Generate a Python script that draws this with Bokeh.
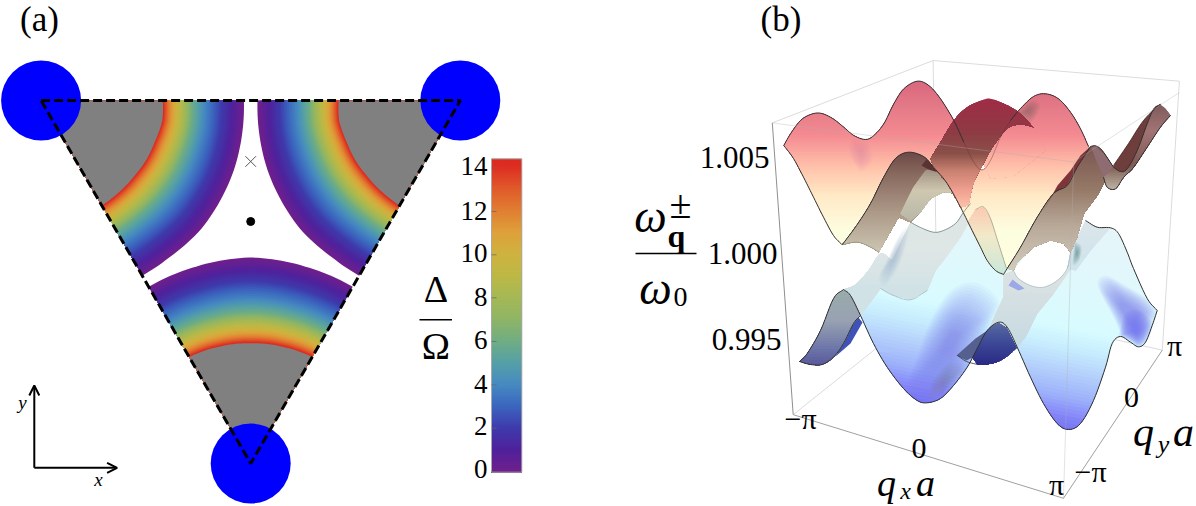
import numpy as np
from bokeh.plotting import figure
from bokeh.models import ColumnDataSource, Arrow, OpenHead
from bokeh.core.properties import value
from bokeh.embed import file_html
from bokeh.resources import INLINE

# ---------- panel (a) values ----------
VERTICES = [(40.6, 100.0), (459.8, 100.0), (250.2, 463.0)]
SITE_RADIUS = 40
CENTER_DOT = (250.2, 221.0)
CROSS = (250.2, 161.0)
BAND_ANGLE = [0, 9.4, 20, 29.2, 39.3, 50.7, 60]
R_OUT_SIDE = [202.8, 203.8, 205.0, 205.2, 205.3, 202.6, 202.3]
R_IN_SIDE = [121.7, 122.9, 121.0, 120.8, 120.0, 120.5, 121.3]
BOTTOM_ANGLE = [60, 75, 90, 105, 120]
R_OUT_BOTTOM = [204.0, 204.4, 206.0, 204.4, 204.0]
R_IN_BOTTOM = [122.9, 121.0, 120.3, 121.0, 122.9]
DELTA_LEVEL = [0, 2, 4, 6, 8, 10, 12, 14, 14.4]
BAND_FRACTION = [1.0, 0.732, 0.518, 0.362, 0.264, 0.168, 0.078, 0.012, 0.0]
CBAR_DELTA = list(range(16))
CBAR_COLOR = ["#6f1f8c", "#4f219c", "#3e3bac", "#3b66bf", "#468ac0", "#55a0a6", "#70ad82", "#8fb565",
              "#a5b855", "#bdb845", "#ceb23f", "#dea03a", "#e07e32", "#e05a2a", "#dd2e22", "#d92020"]
CBAR_TICKS = [0, 2, 4, 6, 8, 10, 12, 14]
CBAR_TICK_Y = [471, 427.7, 384.3, 341, 297.3, 254.3, 211, 167.5]
CBAR_X = (491, 521.3)
CBAR_Y = (158.3, 471.7)
CBAR_LABEL_Y = [468.3, 425.7, 383, 339, 296.7, 252, 210, 165.7]

# ---------- panel (b) traced curves (screen positions) ----------
FL = [(783.3,145),(793,158),(803,176.7),(813,196.7),(823,216.7),(833,235),(841.7,244.3)]
BACK = [(783.3,145),(790,133.3),(800,120),(810,114),(820,112.7),(831.7,117.7),(843.3,126.7),(853.3,135),(865,139),(873.3,135),(883.3,123.3),(893.3,103.3),(903.3,88.3),(916.7,80.7),(928.3,85),(940,98.3),(953.3,120),(963.3,141.7),(973.3,161.7),(981.7,169.5),(990,160),(1000,136.7),(1010,120),(1020,108),(1033,96),(1045,93.3),(1058,98.3),(1070,111.7),(1080,128.3),(1088,146)]
RIDGE1 = [(841.7,244.3),(856,225),(870,203),(883,177),(895,158),(908,151.7),(923,156),(933,166.7),(946.7,183),(960,206.7),(970,226.7),(980,246.7),(986.7,260),(995,270),(1003,274)]
RIDGE2 = [(1003,274),(1006.7,268),(1020,246.7),(1036.7,216.7),(1053,193),(1066.7,185),(1076.7,166.7),(1090,146)]
HUMP = [(1090,146),(1095,145.3),(1101.7,150),(1113,166.7)]
BL = [(841.7,244.3),(856.7,241.7),(870,246.7),(878.3,251.7)]
ARCH1 = [(910,221.7),(920,211.7),(930,198.3),(943,191.7),(953,193)]
CAP_TOP = [(930,158),(940,141.7),(953.3,120),(966.7,106.7),(983,99.3),(990,98.3),(1003,103),(1018,111.7),(1033,126.7)]
CAP_IN = [(1033,126.7),(1020,124),(1006.7,128.3),(993.3,145),(983,163),(973,183),(968,205)]
LOW_FRONT = [(843,289),(850,295),(860,315),(873,343),(886.7,366.7),(903,388),(916.7,400),(926.7,402.3),(940,398),(953,385),(966.7,366.7),(976.7,348),(986.7,330),(998.3,321.7),(1006.7,326.7),(1016.7,346.7),(1030,376.7),(1043,403),(1056.7,423),(1068,429),(1080,423),(1093,400),(1105,366.7),(1111.7,343),(1120,336),(1130,341.7),(1138,346.3),(1145,341.7),(1151.7,325),(1156.7,310)]
LOW_RIGHT = [(1085,220),(1096.7,226.7),(1110,227.3),(1118,233),(1126.7,251.7),(1133,268),(1146.7,298),(1156.7,310)]
LOW_WIN = [(910,221.7),(920,227),(933,231.7),(943,230),(955,223),(963,211.7),(970,203)]
LOW_LEFT = [(843,289),(855,284),(868,270),(880,253),(891.7,260)]
SHEET_EDGE = [(860,315),(870,300),(880,288),(893,295),(910,299.3),(926.7,290),(935,270),(946.7,255),(960,236.7),(970,220)]
FLANK_TOP = [(799,361),(806.7,353),(820,330),(833,298),(843,289)]
FLANK_BOT = [(799,361),(810,364),(821.7,364),(833,356.7),(843,343),(853,323),(860,315)]
BOWL = [(957,355),(966,361),(977,364),(987,364),(1000,360),(1010,353),(1016.7,346.7)]
WING_TOP = [(1113,165),(1128,143),(1143,120),(1158,105),(1160,104)]
WING_IN = [(1113,166.7),(1120,171),(1126.7,168.3),(1136.7,150),(1146.7,123.3),(1153.3,108.3),(1160,104)]
WING_LOW = [(1170,115),(1160,126.7),(1146.7,146.7),(1133.3,166.7),(1123.3,176.7),(1115,188.3),(1106.7,186.7),(1103,176.7)]
PEAK_LINE = [(975,209),(983,206.5),(990,218),(998,243),(1006,268)]
HOLE2_TOP = [(1013,270),(1033,246.7),(1050,240),(1063,243),(1070,251.7)]
HOLE2_BOT = [(1070,251.7),(1066.7,268),(1056.7,280),(1043,286.7),(1030,285),(1018,278),(1013,270)]

# vertical colour scales of the surfaces
PINK = [(80,"#d9677f"),(110,"#e57c88"),(135,"#f48b92"),(165,"#ffbfa9"),(195,"#ffe9c6"),(230,"#fdfddf"),(275,"#fffee2")]
BROWN = [(150,"#6b4644"),(175,"#8a6b60"),(210,"#ab9786"),(250,"#cbc4b0")]
CAP = [(98,"#a02c46"),(130,"#8f3a44"),(153,"#8a5048"),(170,"#c88070"),(190,"#f0a090"),(210,"#ffc8b0")]
CYAN = [(220,"#e4f6fa"),(300,"#d8fbff"),(320,"#c8eefe"),(345,"#b4d0fb"),(370,"#9cb0fb"),(390,"#8484f8"),(405,"#7272f2")]
GREY = [(210,"#dde4e4"),(250,"#dfe6e6"),(290,"#d0e2e6")]
FLANK = [(289,"#9aabaa"),(320,"#98a2b2"),(350,"#6a72a8"),(364,"#5a5a9a")]
NAVY = [(322,"#5a6ca0"),(340,"#3f4c98"),(364,"#2a2a85")]
RIGHTBROWN = [(146,"#7a5550"),(190,"#967a68"),(225,"#b8a898"),(270,"#d2ccbc")]
MAUVE = [(104,"#7d5a5c"),(130,"#a27474"),(165,"#7d5a52"),(190,"#c0b8a8")]

BOX_BACK = [((771.8,122.4),(932.6,60.0)),((932.6,60.0),(1178.9,80.7)),((932.6,60.0),(936.4,299.4)),((1178.9,80.7),(1161.8,349.6)),((792.7,414.2),(936.4,299.4)),((936.4,299.4),(1161.8,349.6))]

TITLE_A, TITLE_B = "(a)", "(b)"
Z_TICKS = ["1.005", "1.000", "0.995"]
AXIS_TICKS = ["\u2212\u03c0", "0", "\u03c0"]
SERIF = value("Liberation Serif")


def hex2rgb(h):
    return np.array([int(h[i:i+2], 16) for i in (1, 3, 5)], float)


def scale_color(stops, t):
    ts = [s[0] for s in stops]
    rgb = np.array([hex2rgb(s[1]) for s in stops])
    c = [np.interp(t, ts, rgb[:, i]) for i in range(3)]
    return "#%02x%02x%02x" % tuple(int(round(v)) for v in c)


def smooth(points, k=6):
    pts = np.array(points, float)
    if len(pts) < 3:
        return [tuple(q) for q in pts]
    P = np.vstack([2*pts[0]-pts[1], pts, 2*pts[-1]-pts[-2]])
    out = []
    for i in range(1, len(P)-2):
        for u in np.linspace(0, 1, k, endpoint=False):
            a = 2*P[i]
            b = (P[i+1]-P[i-1])*u
            c = (2*P[i-1]-5*P[i]+4*P[i+1]-P[i+2])*u*u
            d = (-P[i-1]+3*P[i]-3*P[i+1]+P[i+2])*u**3
            out.append(tuple(0.5*(a+b+c+d)))
    out.append(tuple(pts[-1]))
    return out


def clip_half(poly, tilt, level):
    """Keep y + tilt*x >= level; a concave outline falls apart into separate pieces."""
    f = [q[1]+tilt*q[0]-level for q in poly]
    n = len(poly)
    inside = [v >= 0 for v in f]
    if all(inside):
        return [poly]
    if not any(inside):
        return []
    start = next(i for i in range(n) if not inside[i] and inside[(i+1) % n])
    runs, run = [], None
    for j in range(n):
        i = (start+j) % n
        k = (i+1) % n
        a, b = poly[i], poly[k]
        if inside[i] != inside[k]:
            u = f[i]/(f[i]-f[k])
            cross = (a[0]+u*(b[0]-a[0]), a[1]+u*(b[1]-a[1]))
            if inside[k]:
                run = [cross, b]
            else:
                run.append(cross)
                runs.append(run)
                run = None
        elif inside[i]:
            run.append(b)
    ends = []
    for r_i, r in enumerate(runs):
        ends.append((r[0][0], r_i, "start"))
        ends.append((r[-1][0], r_i, "end"))
    ends.sort(key=lambda e: e[0])
    nxt = {}
    for m in range(0, len(ends)-1, 2):
        e0, e1 = ends[m], ends[m+1]
        if e0[2] == "end" and e1[2] == "start":
            nxt[e0[1]] = e1[1]
        elif e1[2] == "end" and e0[2] == "start":
            nxt[e1[1]] = e0[1]
    pieces, seen = [], set()
    for r_i in range(len(runs)):
        if r_i in seen:
            continue
        piece, cur = [], r_i
        while cur is not None and cur not in seen:
            seen.add(cur)
            piece += runs[cur]
            cur = nxt.get(cur)
        pieces.append(piece)
    return pieces


SURF = dict(xs=[], ys=[], color=[], alpha=[])


def add(poly, color, alpha=1.0):
    if len(poly) < 3:
        return
    SURF["xs"].append([q[0] for q in poly])
    SURF["ys"].append([q[1] for q in poly])
    SURF["color"].append(color)
    SURF["alpha"].append(alpha)


def grad(poly, stops, tilt=0.0, xref=0.0, n=36):
    t = [q[1]+tilt*q[0] for q in poly]
    lo, hi = min(t), max(t)
    for i in range(n):
        lev = lo+(hi-lo)*i/n
        col = scale_color(stops, lev+(hi-lo)/(2*n)-tilt*xref)
        for piece in (clip_half(poly, tilt, lev) if i else [poly]):
            add(piece, col)


def soft(points, color, alpha=0.05, steps=18, inner=0.1):
    poly = smooth(points+points[:1], 4)
    c = np.mean(np.array(points), axis=0)
    for k in range(steps):
        s_ = 1-(1-inner)*k/steps
        add([(c[0]+s_*(q[0]-c[0]), c[1]+s_*(q[1]-c[1])) for q in poly], color, alpha)


p = figure(width=1196, height=506, x_range=(0, 1196), y_range=(506, 0), toolbar_location=None,
           output_backend="svg", min_border=0, x_axis_location=None, y_axis_location=None,
           outline_line_color=None, background_fill_color="white", border_fill_color="white")
p.grid.visible = False

# ---------- panel (a) ----------
pal_x = np.linspace(0, 14.42, 80)
def rainbow(d):
    rgb = np.array([hex2rgb(c) for c in CBAR_COLOR])
    return "#%02x%02x%02x" % tuple(int(round(np.interp(d, CBAR_DELTA, rgb[:, i]))) for i in range(3))

sect = dict(xs=[], ys=[], color=[])
def sector(v, a0, a1, ang_tab, rout, rin, sx, sy):
    ang = np.linspace(a0, a1, 46)
    ro = np.interp(ang, ang_tab, rout)
    ri = np.interp(ang, ang_tab, rin)
    for d in list(pal_x)+[None]:
        f = 0.0 if d is None else np.interp(d, DELTA_LEVEL, BAND_FRACTION)
        r = ri+f*(ro-ri)
        sect["xs"].append([v[0]]+list(v[0]+sx*r*np.cos(np.radians(ang))))
        sect["ys"].append([v[1]]+list(v[1]+sy*r*np.sin(np.radians(ang))))
        sect["color"].append("#808080" if d is None else rainbow(d))

sector(VERTICES[0], 0, 60, BAND_ANGLE, R_OUT_SIDE, R_IN_SIDE, 1, 1)
sector(VERTICES[1], 0, 60, BAND_ANGLE, R_OUT_SIDE, R_IN_SIDE, -1, 1)
sector(VERTICES[2], 60, 120, BOTTOM_ANGLE, R_OUT_BOTTOM, R_IN_BOTTOM, 1, -1)
p.patches("xs", "ys", fill_color="color", line_color=None, source=ColumnDataSource(sect))

p.circle([v[0] for v in VERTICES], [v[1] for v in VERTICES], radius=SITE_RADIUS, fill_color="#0000ff", line_color=None)
p.line([v[0] for v in VERTICES]+[VERTICES[0][0]], [v[1] for v in VERTICES]+[VERTICES[0][1]],
       line_color="black", line_width=3, line_dash="9 4")
p.scatter([CENTER_DOT[0]], [CENTER_DOT[1]], size=8, color="black")
p.scatter([CROSS[0]], [CROSS[1]], marker="x", size=15, line_color="#555555", line_width=1)

# colour bar (painted from the top down so that no seams show)
edges = np.linspace(0, 14.42, 145)
yof = lambda d: np.interp(d, [0, 14.42], [CBAR_Y[1], CBAR_Y[0]])
p.quad(left=CBAR_X[0], right=CBAR_X[1], bottom=CBAR_Y[1], top=yof(edges[1:])[::-1],
       fill_color=[rainbow(d) for d in edges[:-1]][::-1], line_color=None)
p.quad(left=[CBAR_X[0]], right=[CBAR_X[1]], bottom=[CBAR_Y[1]], top=[CBAR_Y[0]], fill_color=None, line_color="#a9a9a9", line_width=1)
p.segment(x0=[CBAR_X[0]]*8, x1=[CBAR_X[0]+5]*8, y0=CBAR_TICK_Y, y1=CBAR_TICK_Y, line_color="#666666", line_alpha=0.7, line_width=1)
p.text(x=[487]*8, y=CBAR_LABEL_Y, text=[str(t) for t in CBAR_TICKS], text_font=SERIF, text_font_size="27px",
       text_align="right", text_baseline="middle", text_color="black")
p.text(x=[435.4], y=[288.5], text=["\u0394"], text_font=SERIF, text_font_size="38px", text_align="center", text_baseline="middle")
p.segment(x0=[419], x1=[451.5], y0=[319.3], y1=[319.3], line_color="black", line_width=1.5)
p.text(x=[435.4], y=[345], text=["\u03a9"], text_font=SERIF, text_font_size="38px", text_align="center", text_baseline="middle")
p.text(x=[39], y=[19], text=[TITLE_A], text_font=SERIF, text_font_size="35px", text_align="center", text_baseline="middle")
ORIGIN = (33.8, 467.3)
p.add_layout(Arrow(end=OpenHead(size=10, line_width=2), x_start=ORIGIN[0], y_start=ORIGIN[1], x_end=ORIGIN[0], y_end=385, line_width=2))
p.add_layout(Arrow(end=OpenHead(size=10, line_width=2), x_start=ORIGIN[0], y_start=ORIGIN[1], x_end=116.6, y_end=ORIGIN[1], line_width=2))
p.text(x=[22, 98], y=[402, 479], text=["y", "x"], text_font=SERIF, text_font_style="italic", text_font_size="19px", text_align="center", text_baseline="middle")

# ---------- panel (b) ----------
for a, b in BOX_BACK:
    p.line([a[0], b[0]], [a[1], b[1]], line_color="#dcdcdc", line_width=1)

# lower band
s = smooth
H = s(SHEET_EDGE)+[(1005,262),(1020,250),(1063,243),(1070,252)]+s(LOW_RIGHT)+s(LOW_FRONT[2:])[::-1]
grad(H, CYAN, tilt=-0.19, xref=926, n=60)
soft([(918,402),(953,385),(976,348),(990,323),(998,300),(975,282),(950,290),(930,320),(915,360),(905,390)], "#7272f2", 0.05)
soft([(1122,337),(1130,341.7),(1138,346.3),(1145,341.7),(1151.7,325),(1156,311),(1146,298),(1125,285),(1105,275),(1097,285),(1112,315)], "#7272f2", 0.06, inner=0.25)
soft([(1118,335),(1130,341),(1138,346),(1146,341),(1152,324),(1140,310),(1125,312)], "#7272f2", 0.07)
soft([(1075,270),(1095,262),(1095,300),(1085,330),(1070,320),(1065,295)], "#f2ffff", 0.04)
soft([(925,400),(940,396),(953,383),(965,365),(948,362),(932,380)], "#77779f", 0.03)
# bowl
J = [(972,357)]+s(LOW_FRONT[11:15])+s(BOWL[2:])[::-1]
grad(J, NAVY, n=24)
add([(956,355),(966,360),(972,357),(978,345),(986.7,330),(975,338)], "#55608f")
add([(858,317),(862,322),(850,343),(835,356),(843,343),(853,323)], "#3e52b8")
# grey sheets
K = [(1003,274),(1013,270),(1018,278),(1030,285),(1043,286.7),(1056.7,280),(1066.7,268),(1075,262),(1051.7,295),(1036.7,313),(1025,336.7),(1016.7,346.7),(1006.7,326.7),(998.3,321.7),(990,325),(996.7,310),(1003,296.7)]
grad(K, [(270,"#dde2e2"),(345,"#c6dae2")], n=14)
add([(1012,279),(1024,288),(1018,290),(1008,285)], "#8a9ae8", 0.8)
add(s(HOLE2_TOP)+s(HOLE2_BOT)[1:], "#ffffff")
K2 = [(1070,251.7),(1085,220),(1096.7,226.7),(1110,227.3),(1090,250),(1075,270),(1066.7,268)]
grad(K2, [(220,"#dbe5ea"),(270,"#cfe4ec")], n=12)
soft([(1074,240),(1081,246),(1079,260),(1072,264)], "#56748a", 0.04)
P = s(LOW_LEFT)+s(LOW_WIN)+[(968,222),(960,236.7),(946.7,255),(935,270),(926.7,290)]+[(910,299.3),(893,295),(880,288),(860,315),(850,295)]
grad(P, GREY, n=18)
soft([(885,262),(900,232),(909,228),(900,262),(885,285),(878,278)], "#98b8cc", 0.04)
# left flank of the lower band
Q = s(FLANK_TOP)+s(LOW_FRONT[:3])[1:]+s(FLANK_BOT)[::-1][1:]
grad(Q, FLANK, n=28)
# upper band
A = s(BACK)+s(RIDGE2)[::-1][1:]+s(RIDGE1)[::-1][1:]+s(FL)[::-1][1:]
grad(A, PINK, n=90)
D = [(1033,126.7),(1020,124),(1006.7,128.3),(993.3,145),(983,163),(990,178),(1012,176),(1045,150)]
grad(D, PINK, n=30)
soft([(852,138),(868,142),(872,160),(860,172),(848,150)], "#a87a80", 0.012)
soft([(1012,115),(1030,100),(1040,105),(1030,122)], "#7d5f60", 0.04)
E = [(967,222),(975,209),(983,206.5),(990,218),(998,243),(1006,268),(1003,274),(995,270),(986.7,260),(980,246.7)]
grad(E, [(206,"#fbc8b0"),(235,"#f2e9c8"),(274,"#c8e8da")], n=24)
B = s(RIDGE1[:9])+[(953,193)]+s(ARCH1)[::-1][1:]+[(898.3,216.7),(886.7,236.7)]+s(BL)[::-1]
grad(B, BROWN, n=50)
F = [(900,213.3),(910,220),(920,211.7),(930,198.3),(943,191.7),(953,192),(946.7,183.3),(933.3,166.7),(925,170),(913,186.7)]
grad(F, [(166,"#98887a"),(190,"#cfc7b0"),(220,"#b8b8a8")], n=24)
add([(926,159),(933,166),(938,172),(928,169),(921,165)], "#5a3232")
C = s(CAP_TOP)+s(CAP_IN)[1:]+[(960,206.7),(946.7,183),(933,166.7)]
grad(C, CAP, n=90)
L = s(RIDGE2[1:])+s(HUMP)[1:]+[(1105,180),(1097,195),(1083.3,213.3),(1076.7,236.7),(1070,251.7),(1063,243),(1050,240),(1033,246.7),(1016.7,262),(1013,270)]
grad(L, RIGHTBROWN, n=50)
add([(1042,212),(1057,185),(1070,170),(1080,155),(1090,146),(1076.7,166.7),(1066.7,185),(1053,193)], "#7d353a")
add([(1090.7,147.3),(1095,145.3),(1103.3,153.3),(1113.3,166.7),(1105,180),(1098.3,166.7)], "#8f6b72")
M = s(WING_IN)+[(1165,108.3)]+s(WING_LOW)
grad(M, MAUVE, n=36)
add(s(WING_TOP)+s(WING_IN)[::-1][1:], "#6e3e3c")

p.patches("xs", "ys", fill_color="color", fill_alpha="alpha", line_color=None, source=ColumnDataSource(SURF))

def outline(pts, color="#303030", width=1.0, alpha=1.0):
    q = s(pts)
    p.line([a[0] for a in q], [a[1] for a in q], line_color=color, line_width=width, line_alpha=alpha)

outline(BACK[:18]); outline(BACK[17:23], "#5a3030", 0.8, 0.5); outline(BACK[22:]); outline(FL)
outline(RIDGE1); outline(RIDGE2); outline(HUMP); outline(LOW_FRONT); outline(LOW_RIGHT)
outline(FLANK_TOP); outline(FLANK_BOT); outline(BL, "#808070", 0.8, 0.7)
outline(WING_IN); outline(WING_TOP, "#402020", 0.8); outline(WING_LOW)
outline(LOW_WIN, "#6f8080", 0.8); outline(PEAK_LINE, "#8f8f80", 0.8, 0.8)
outline(BOWL[:3], "#303030", 0.8)
outline(SHEET_EDGE[2:6], "#8aa8ae", 0.8, 0.7)
outline(HOLE2_BOT, "#8ea6a6", 0.8, 0.7)

# box edges
p.line([771.8, 792.7], [122.4, 414.2], line_color="#8f8f8f", line_width=1)
p.line([792.7, 1063, 1161.8], [414.2, 497.8, 349.6], line_color="#a0a0a0", line_width=1)
p.line([771.8, 1073.2, 1178.9], [122.4, 161.5, 92], line_color="#b0b0b0", line_width=1, line_alpha=0.35)
p.line([1073.2, 1063], [161.5, 497.8], line_color="#b0b0b0", line_width=1, line_alpha=0.35)

# texts
p.text(x=[780.5], y=[19], text=[TITLE_B], text_font=SERIF, text_font_size="35px", text_align="center", text_baseline="middle")
p.text(x=[734, 742, 746], y=[157, 253, 339], text=Z_TICKS, text_font=SERIF, text_font_size="31px", text_align="center", text_baseline="middle")
p.text(x=[800, 918.5, 1056, 1090, 1131, 1174], y=[418, 448, 484, 471, 397, 345],
       text=[AXIS_TICKS[0], AXIS_TICKS[1], AXIS_TICKS[2], AXIS_TICKS[0], AXIS_TICKS[1], AXIS_TICKS[2]],
       text_font=SERIF, text_font_size="30px", text_align="center", text_baseline="middle")
p.text(x=[650], y=[216], text=["\u03c9"], text_font=SERIF, text_font_style="italic", text_font_size="46px", text_align="center", text_baseline="middle")
p.text(x=[680], y=[204], text=["\u00b1"], text_font=SERIF, text_font_size="40px", text_align="center", text_baseline="middle")
p.text(x=[676], y=[235], text=["q"], text_font=SERIF, text_font_style="bold", text_font_size="32px", text_align="center", text_baseline="middle")
p.segment(x0=[635], x1=[696], y0=[253], y1=[253], line_color="black", line_width=1.5)
p.text(x=[655], y=[288], text=["\u03c9"], text_font=SERIF, text_font_style="italic", text_font_size="46px", text_align="center", text_baseline="middle")
p.text(x=[680], y=[296], text=["0"], text_font=SERIF, text_font_size="28px", text_align="center", text_baseline="middle")
p.text(x=[886, 925], y=[482, 482], text=["q", "a"], text_font=SERIF, text_font_style="italic",
       text_font_size="38px", text_align="center", text_baseline="middle")
p.text(x=[905], y=[490], text=["x"], text_font=SERIF, text_font_style="italic",
       text_font_size="24px", text_align="center", text_baseline="middle")
p.text(x=[1143, 1183], y=[431, 431], text=["q", "a"], text_font=SERIF, text_font_style="italic",
       text_font_size="42px", text_align="center", text_baseline="middle")
p.text(x=[1163], y=[444], text=["y"], text_font=SERIF, text_font_style="italic",
       text_font_size="26px", text_align="center", text_baseline="middle")

open("out.html", "w").write(file_html(p, INLINE))
